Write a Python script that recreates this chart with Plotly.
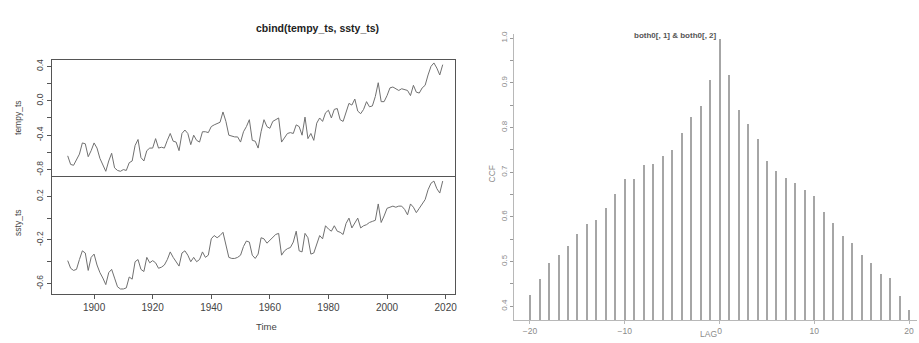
import plotly.graph_objects as go

W, H = 919, 343


def px(x):
    return x / W


def py(y):
    return 1 - y / H


years = list(range(1891, 2020))

tempy_ts = [
    -0.64, -0.74, -0.75, -0.69, -0.62, -0.49, -0.50, -0.65, -0.58, -0.49,  # 1891-1900
    -0.55, -0.67, -0.74, -0.82, -0.70, -0.61, -0.78, -0.81, -0.82, -0.80,  # 1901-1910
    -0.81, -0.72, -0.70, -0.52, -0.45, -0.66, -0.70, -0.58, -0.55, -0.55,  # 1911-1920
    -0.44, -0.55, -0.54, -0.55, -0.46, -0.38, -0.47, -0.48, -0.58, -0.38,  # 1921-1930
    -0.34, -0.38, -0.51, -0.40, -0.46, -0.48, -0.36, -0.36, -0.37, -0.30,  # 1931-1940
    -0.28, -0.26, -0.25, -0.13, -0.24, -0.40, -0.41, -0.42, -0.42, -0.48,  # 1941-1950
    -0.36, -0.30, -0.22, -0.46, -0.47, -0.55, -0.36, -0.22, -0.30, -0.32,  # 1951-1960
    -0.24, -0.22, -0.20, -0.48, -0.43, -0.38, -0.37, -0.38, -0.28, -0.30,  # 1961-1970
    -0.40, -0.19, -0.44, -0.38, -0.46, -0.26, -0.20, -0.24, -0.14, -0.11,  # 1971-1980
    -0.20, -0.10, -0.09, -0.22, -0.24, -0.12, -0.03, -0.05, 0.02, -0.12,   # 1981-1990
    -0.15, -0.10, -0.01, -0.07, -0.06, 0.05, 0.21, -0.01, -0.01, 0.06,     # 1991-2000
    0.15, 0.16, 0.14, 0.12, 0.14, 0.13, 0.12, 0.06, 0.18, 0.10,            # 2001-2010
    0.09, 0.15, 0.18, 0.30, 0.40, 0.44, 0.38, 0.30, 0.42,                  # 2011-2019
]

ssty_ts = [
    -0.39, -0.46, -0.48, -0.47, -0.38, -0.30, -0.32, -0.48, -0.36, -0.33,  # 1891-1900
    -0.43, -0.50, -0.55, -0.61, -0.50, -0.47, -0.55, -0.63, -0.65, -0.65,  # 1901-1910
    -0.64, -0.54, -0.56, -0.40, -0.38, -0.47, -0.49, -0.36, -0.41, -0.39,  # 1911-1920
    -0.41, -0.46, -0.45, -0.43, -0.38, -0.31, -0.36, -0.40, -0.44, -0.32,  # 1921-1930
    -0.30, -0.34, -0.40, -0.36, -0.40, -0.38, -0.31, -0.36, -0.34, -0.19,  # 1931-1940
    -0.16, -0.18, -0.16, -0.13, -0.25, -0.36, -0.37, -0.37, -0.36, -0.34,  # 1941-1950
    -0.26, -0.21, -0.22, -0.34, -0.37, -0.33, -0.18, -0.19, -0.23, -0.20,  # 1951-1960
    -0.17, -0.15, -0.14, -0.34, -0.30, -0.28, -0.27, -0.22, -0.12, -0.30,  # 1961-1970
    -0.31, -0.14, -0.18, -0.33, -0.32, -0.24, -0.16, -0.19, -0.07, -0.10,  # 1971-1980
    -0.12, -0.07, -0.12, -0.13, -0.15, -0.05, 0.00, -0.09, -0.05, 0.00,    # 1981-1990
    -0.09, -0.07, -0.06, -0.04, -0.03, -0.02, 0.13, -0.04, 0.02, 0.09,     # 1991-2000
    0.10, 0.11, 0.10, 0.11, 0.11, 0.08, 0.03, 0.13, 0.10, 0.05,            # 2001-2010
    0.09, 0.13, 0.17, 0.26, 0.32, 0.34, 0.27, 0.23, 0.34,                  # 2011-2019
]

lags = list(range(-20, 21))
ccf_values = [
    0.425, 0.461, 0.497, 0.516, 0.536, 0.563, 0.584, 0.593, 0.620, 0.652,  # -20..-11
    0.685, 0.686, 0.716, 0.720, 0.738, 0.750, 0.788, 0.824, 0.849, 0.907,  # -10..-1
    0.998,                                                                 # 0
    0.918, 0.840, 0.809, 0.776, 0.725, 0.703, 0.688, 0.677, 0.660, 0.648,  # 1..10
    0.611, 0.588, 0.557, 0.542, 0.516, 0.497, 0.473, 0.465, 0.423, 0.393,  # 11..20
]

assert len(tempy_ts) == len(years) == len(ssty_ts)
assert len(ccf_values) == len(lags)

time_ticks = [1900, 1920, 1940, 1960, 1980, 2000, 2020]
tempy_tickvals = [-0.8, -0.6, -0.4, -0.2, 0.0, 0.2, 0.4]
tempy_ticktext = ["-0.8", "", "-0.4", "", "0.0", "", "0.4"]
ssty_tickvals = [-0.6, -0.4, -0.2, 0.0, 0.2]
ssty_ticktext = ["-0.6", "", "-0.2", "", "0.2"]
lag_ticks = [-20, -10, 0, 10, 20]
ccf_tickvals = [0.4, 0.45, 0.5, 0.55, 0.6, 0.65, 0.7, 0.75, 0.8, 0.85, 0.9, 0.95, 1.0]
ccf_ticktext = ["0.4", "", "0.5", "", "0.6", "", "0.7", "", "0.8", "", "0.9", "", "1.0"]

FONT = "Liberation Sans, Arial, sans-serif"
FRAME = "#555555"
LGRAY = "#b8b8b8"

fig = go.Figure()
fig.add_trace(go.Scatter(x=years, y=tempy_ts, mode="lines",
                         line=dict(color="#707070", width=1),
                         xaxis="x", yaxis="y", showlegend=False, hoverinfo="skip"))
fig.add_trace(go.Scatter(x=years, y=ssty_ts, mode="lines",
                         line=dict(color="#707070", width=1),
                         xaxis="x2", yaxis="y2", showlegend=False, hoverinfo="skip"))
fig.add_trace(go.Bar(x=lags, y=ccf_values, width=0.11,
                     marker=dict(color="#a6a6a6", line=dict(width=0)),
                     xaxis="x3", yaxis="y3", showlegend=False, hoverinfo="skip"))

x_range = [1885.6, 2023.2]
left_dom = [px(52), px(456)]

fig.update_layout(
    width=W, height=H,
    margin=dict(l=0, r=0, t=0, b=0),
    paper_bgcolor="white", plot_bgcolor="white",
    font=dict(family=FONT, color="#333333"),
    bargap=0,
    xaxis=dict(domain=left_dom, range=x_range, anchor="y",
               showticklabels=False, ticks="", showgrid=False, zeroline=False,
               showline=True, mirror=True, linecolor=FRAME, linewidth=1),
    yaxis=dict(domain=[py(175), py(57)], range=[-0.88, 0.48], anchor="x",
               tickvals=tempy_tickvals, ticktext=tempy_ticktext,
               ticks="outside", ticklen=4, tickcolor=FRAME, tickangle=-90,
               tickfont=dict(size=8.5, color="#444444"),
               showgrid=False, zeroline=False,
               showline=True, mirror=True, linecolor=FRAME, linewidth=1),
    xaxis2=dict(domain=left_dom, range=x_range, anchor="y2",
                tickvals=time_ticks, ticks="outside", ticklen=4, tickcolor=FRAME,
                tickfont=dict(size=10, color="#444444"),
                showgrid=False, zeroline=False,
                showline=True, mirror=True, linecolor=FRAME, linewidth=1),
    yaxis2=dict(domain=[py(294), py(176)], range=[-0.70, 0.373], anchor="x2",
                tickvals=ssty_tickvals, ticktext=ssty_ticktext,
                ticks="outside", ticklen=4, tickcolor=FRAME, tickangle=-90,
                tickfont=dict(size=8.5, color="#444444"),
                showgrid=False, zeroline=False,
                showline=True, mirror=True, linecolor=FRAME, linewidth=1),
    xaxis3=dict(domain=[px(515), 1.0], range=[-21.7, 20.84], anchor="y3",
                tickvals=lag_ticks, ticks="outside", ticklen=3, tickcolor=LGRAY,
                tickfont=dict(size=8.5, color="#8a8a8a"),
                showgrid=False, zeroline=False,
                showline=True, linecolor=LGRAY, linewidth=1),
    yaxis3=dict(domain=[py(320), py(31)], range=[0.369, 1.01], anchor="x3",
                tickvals=ccf_tickvals, ticktext=ccf_ticktext,
                ticks="outside", ticklen=3, tickcolor="#999999", tickangle=-90,
                tickfont=dict(size=8, color="#8a8a8a"),
                showgrid=False, zeroline=False,
                showline=True, linecolor=LGRAY, linewidth=1),
    annotations=[
        dict(text="<b>cbind(tempy_ts, ssty_ts)</b>", x=px(255), y=py(17),
             xref="paper", yref="paper", showarrow=False,
             font=dict(size=10.5, color="#222222")),
        dict(text="Time", x=px(255), y=py(334), xref="paper", yref="paper",
             showarrow=False, font=dict(size=9.5, color="#444444")),
        dict(text="tempy_ts", x=px(11), y=py(115), xref="paper", yref="paper",
             showarrow=False, textangle=-90, font=dict(size=8.5, color="#444444")),
        dict(text="ssty_ts", x=px(11), y=py(237), xref="paper", yref="paper",
             showarrow=False, textangle=-90, font=dict(size=8.5, color="#444444")),
        dict(text="<b>both0[, 1] &amp; both0[, 2]</b>", x=px(721), y=py(26),
             xref="paper", yref="paper", showarrow=False,
             font=dict(size=8, color="#555555")),
        dict(text="LAG", x=px(721), y=py(341), xref="paper", yref="paper",
             showarrow=False, font=dict(size=8.5, color="#8a8a8a")),
        dict(text="CCF", x=px(494), y=py(172), xref="paper", yref="paper",
             showarrow=False, textangle=-90, font=dict(size=8.5, color="#8a8a8a")),
    ],
)

fig.write_html("out.html")
